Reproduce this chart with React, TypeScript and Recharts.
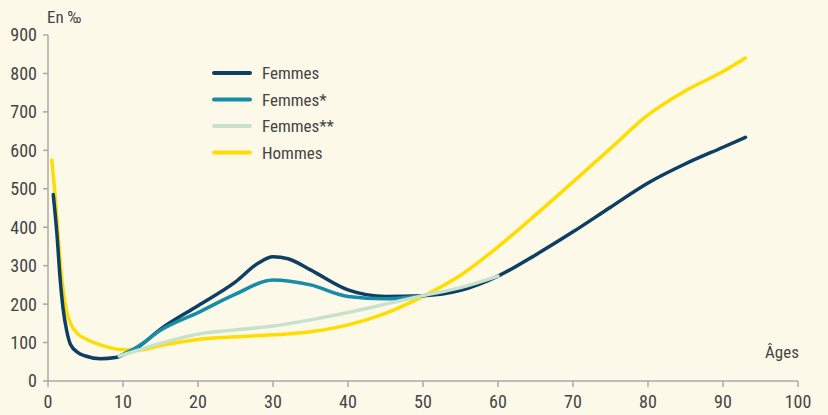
import { LineChart, Line, XAxis, YAxis } from 'recharts';

const FONT = "'Liberation Sans Narrow', 'Roboto Condensed', 'Liberation Sans', sans-serif";
const BG = '#FDF9E9';

// ages (years) and rates (per mille)
const femmesAges = [0.7, 1.2, 1.6, 2, 2.5, 3, 4, 5, 7, 9, 10, 12, 15, 20, 25, 28, 30, 32, 35, 40, 45, 50, 55, 60, 65, 70, 75, 80, 85, 90, 93];
const femmesValues = [485, 380, 270, 190, 130, 95, 74, 65, 58, 61, 68, 88, 135, 196, 258, 306, 323, 318, 289, 237, 220, 222, 236, 273, 328, 388, 452, 515, 565, 608, 634];

const femmes1Ages = [9.5, 12, 15, 20, 25, 30, 35, 40, 45, 50];
const femmes1Values = [65, 90, 132, 178, 226, 263, 250, 220, 214, 222];

const femmes2Ages = [9.5, 12, 15, 20, 25, 30, 35, 40, 45, 50, 55, 60];
const femmes2Values = [65, 80, 98, 122, 133, 143, 159, 178, 200, 222, 243, 273];

const hommesAges = [0.5, 1, 1.5, 2, 2.5, 3, 4, 5, 7, 10, 12, 15, 20, 25, 30, 35, 40, 45, 50, 55, 60, 65, 70, 75, 80, 85, 90, 93];
const hommesValues = [575, 470, 340, 240, 180, 150, 122, 110, 94, 81, 80, 92, 108, 115, 120, 128, 146, 176, 220, 275, 349, 432, 518, 605, 692, 755, 805, 840];

const xTicks = [0, 10, 20, 30, 40, 50, 60, 70, 80, 90, 100];
const yTicks = [0, 100, 200, 300, 400, 500, 600, 700, 800, 900];

const series = [
  { name: 'Hommes', ages: hommesAges, values: hommesValues, color: '#FFDD00' },
  { name: 'Femmes', ages: femmesAges, values: femmesValues, color: '#0D3E63' },
  { name: 'Femmes*', ages: femmes1Ages, values: femmes1Values, color: '#168CA6' },
  { name: 'Femmes**', ages: femmes2Ages, values: femmes2Values, color: '#C7E1CC' },
];

const legendOrder = ['Femmes', 'Femmes*', 'Femmes**', 'Hommes'];

const toPoints = (ages: number[], values: number[]) =>
  ages.map((age, i) => ({ age, value: values[i] }));

const tickStyle = { fill: '#444', fontSize: 18, fontFamily: FONT };

export default function App() {
  return (
    <div style={{ position: 'absolute', left: 0, top: 0, width: 828, height: 415, background: BG, fontFamily: FONT }}>
      <LineChart width={828} height={415} margin={{ top: 35, right: 30, bottom: 4, left: 8 }}>
        <XAxis
          dataKey="age"
          type="number"
          domain={[0, 100]}
          ticks={xTicks}
          allowDuplicatedCategory={false}
          height={30}
          stroke="#A8A8A8"
          strokeWidth={1.5}
          tickSize={6}
          tickMargin={8}
          tick={tickStyle}
        />
        <YAxis
          type="number"
          domain={[0, 900]}
          ticks={yTicks}
          width={40}
          stroke="#A8A8A8"
          strokeWidth={1.5}
          tickSize={5}
          tickMargin={6}
          tick={tickStyle}
        />
        {series.map((s) => (
          <Line
            key={s.name}
            data={toPoints(s.ages, s.values)}
            dataKey="value"
            type="monotone"
            stroke={s.color}
            strokeWidth={3.5}
            strokeLinecap="round"
            dot={false}
            activeDot={false}
            isAnimationActive={false}
          />
        ))}
        <text x={47} y={23} fontSize={17} fill="#444" fontFamily={FONT}>En ‰</text>
        <text x={765} y={358} fontSize={17} fill="#444" fontFamily={FONT}>Âges</text>
        {legendOrder.map((name, i) => {
          const s = series.find((x) => x.name === name)!;
          const y = 73 + i * 26.5;
          return (
            <g key={name}>
              <line x1={214} x2={250} y1={y} y2={y} stroke={s.color} strokeWidth={4} strokeLinecap="round" />
              <text x={262} y={y + 6} fontSize={17} fill="#444" fontFamily={FONT}>{name}</text>
            </g>
          );
        })}
      </LineChart>
    </div>
  );
}
